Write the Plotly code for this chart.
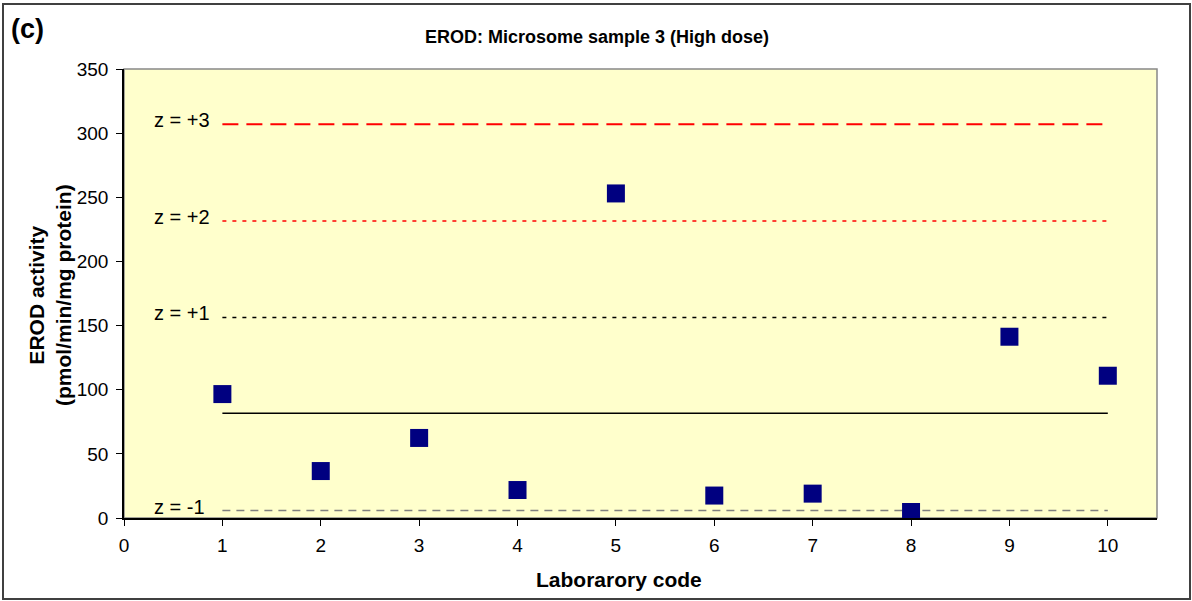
import plotly.graph_objects as go

labs = [1, 2, 3, 4, 5, 6, 7, 8, 9, 10]
erod = [96.6, 36.6, 62.4, 21.8, 253, 17.5, 19, 4.7, 141.3, 110.9]

line_x = [1, 10]
mean_val = 81.6
z_labels = ["z = +3", "z = +2", "z = +1", "z = -1"]
z_values = [307.0, 231.5, 156.3, 5.8]
z_colors = ["#FF0000", "#FF0000", "#000000", "#808080"]
z_dashes = ["16px,8px", "4px,6px", "4px,6px", "8px,6px"]

W, H = 1192, 601
L, R, T, B = 124, 35, 69, 83
pw, ph = W - L - R, H - T - B
FONT = "Liberation Sans, Arial"

fig = go.Figure()

for lab, val, col, dash in zip(z_labels, z_values, z_colors, z_dashes):
    fig.add_trace(go.Scatter(x=line_x, y=[val, val], mode="lines",
                             line=dict(color=col, width=2 if dash.startswith("16") else 1.6, dash=dash),
                             hoverinfo="skip", showlegend=False))
    fig.add_annotation(x=0.28, y=val, text=lab, showarrow=False, xanchor="left",
                       yanchor="middle", yshift=4,
                       font=dict(family=FONT, size=20, color="black"))

fig.add_trace(go.Scatter(x=line_x, y=[mean_val, mean_val], mode="lines",
                         line=dict(color="black", width=1.6), showlegend=False, hoverinfo="skip"))

fig.add_trace(go.Scatter(x=labs, y=erod, mode="markers",
                         marker=dict(symbol="square", size=18, color="#000080",
                                     line=dict(width=0)),
                         showlegend=False))

fig.update_layout(
    width=W, height=H,
    margin=dict(l=L, r=R, t=T, b=B),
    paper_bgcolor="white", plot_bgcolor="#FFFFCC",
    font=dict(family=FONT, size=19, color="black"),
    xaxis=dict(range=[0, 10.5], tickmode="array", tickvals=list(range(0, 11)),
               ticks="outside", ticklen=6, tickcolor="black", showgrid=False,
               zeroline=False, showline=True, linecolor="black", linewidth=1.5,
               tickfont=dict(size=19), ticklabelstandoff=3, fixedrange=True),
    yaxis=dict(range=[0, 350], dtick=50, ticks="outside", ticklen=6, tickcolor="black",
               showgrid=False, zeroline=False, showline=True, linecolor="black",
               linewidth=1.5, tickfont=dict(size=19), ticklabelstandoff=4, fixedrange=True),
)

# plot area border (top/right grey)
fig.add_shape(type="rect", xref="paper", yref="paper", x0=0, y0=0, x1=1, y1=1,
              line=dict(color="#888888", width=1.5), layer="below")

def px2x(p):
    return (p - L) / pw

def px2y(p):
    return (H - B - p) / ph

# outer chart frame
fig.add_shape(type="rect", xref="paper", yref="paper",
              x0=px2x(3), x1=px2x(1190), y0=px2y(599), y1=px2y(4),
              line=dict(color="#404040", width=2))

fig.add_annotation(xref="paper", yref="paper", x=px2x(597), y=px2y(37),
                   text="<b>EROD: Microsome sample 3 (High dose)</b>", showarrow=False,
                   font=dict(size=18), xanchor="center", yanchor="middle")
fig.add_annotation(xref="paper", yref="paper", x=px2x(9), y=px2y(29),
                   text="<b>(c)</b>", showarrow=False, font=dict(size=27),
                   xanchor="left", yanchor="middle")
fig.add_annotation(xref="paper", yref="paper", x=px2x(619), y=px2y(579),
                   text="<b>Laborarory code</b>", showarrow=False, font=dict(size=21),
                   xanchor="center", yanchor="middle")
fig.add_annotation(xref="paper", yref="paper", x=px2x(50), y=px2y(295),
                   text="<b>EROD activity<br>(pmol/min/mg protein)</b>", showarrow=False,
                   font=dict(size=21), textangle=-90, xanchor="center", yanchor="middle")

fig.write_html("out.html", post_script="document.body.style.margin='0';",
               config={"displayModeBar": False})
